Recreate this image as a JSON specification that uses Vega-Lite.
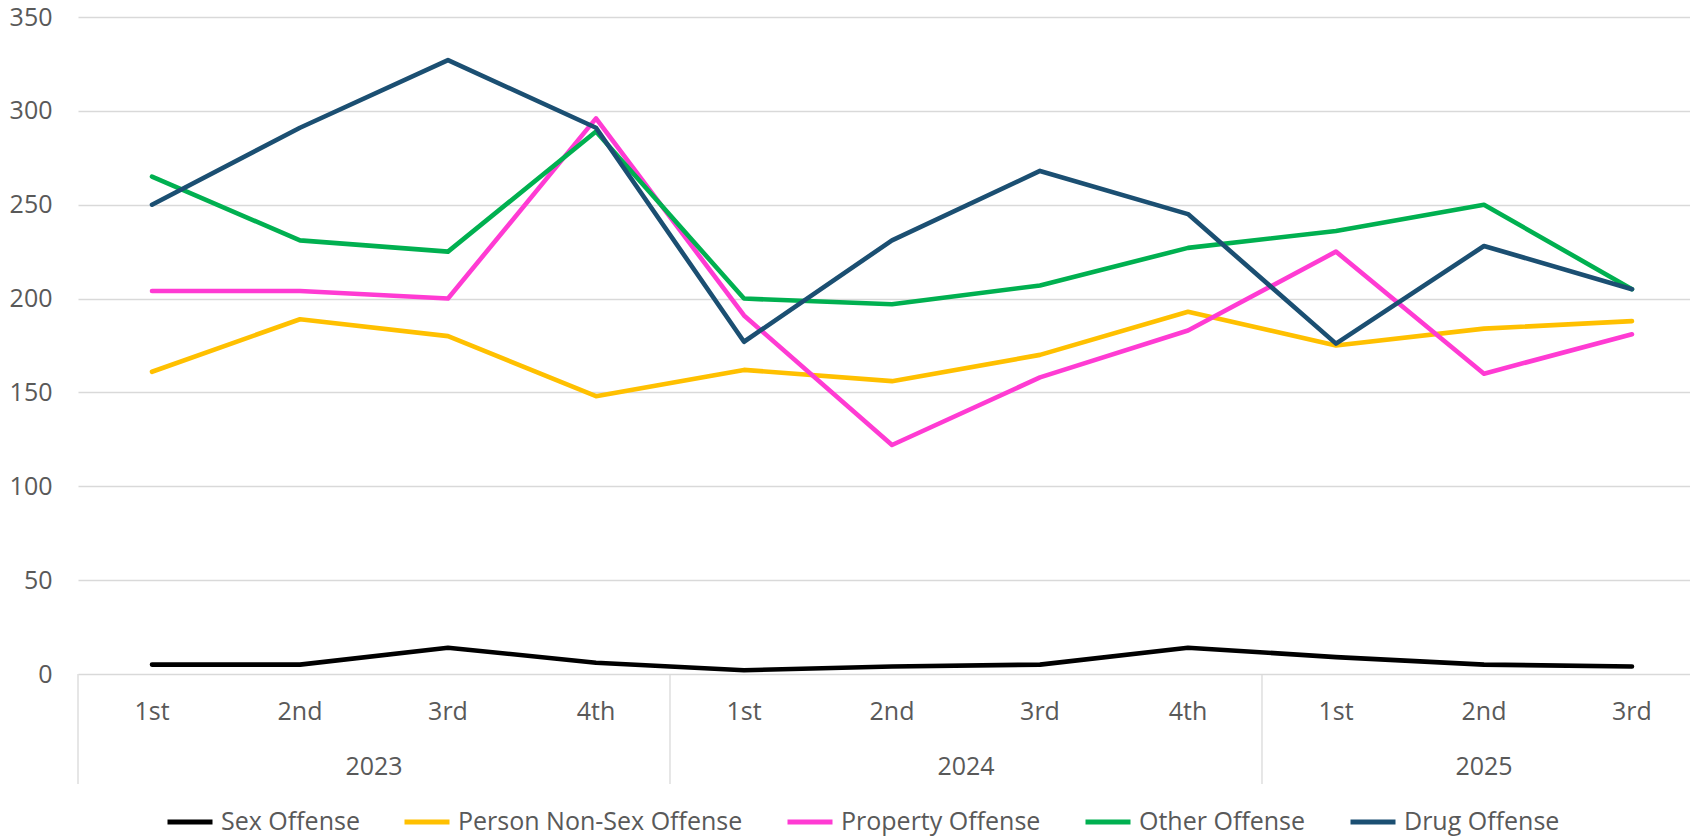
{
  "$schema": "https://vega.github.io/schema/vega-lite/v6.json",
  "width": 1612,
  "height": 657,
  "autosize": "none",
  "padding": {"left": 78, "top": 17, "right": 0, "bottom": 162},
  "config": {
    "view": {"stroke": null},
    "font": "Open Sans",
    "text": {"font": "Open Sans"}
  },
  "data": {
    "values": [
      {"offense": "Sex Offense", "year": "2023", "quarter": "1st", "period": 1, "value": 5},
      {"offense": "Sex Offense", "year": "2023", "quarter": "2nd", "period": 2, "value": 5},
      {"offense": "Sex Offense", "year": "2023", "quarter": "3rd", "period": 3, "value": 14},
      {"offense": "Sex Offense", "year": "2023", "quarter": "4th", "period": 4, "value": 6},
      {"offense": "Sex Offense", "year": "2024", "quarter": "1st", "period": 5, "value": 2},
      {"offense": "Sex Offense", "year": "2024", "quarter": "2nd", "period": 6, "value": 4},
      {"offense": "Sex Offense", "year": "2024", "quarter": "3rd", "period": 7, "value": 5},
      {"offense": "Sex Offense", "year": "2024", "quarter": "4th", "period": 8, "value": 14},
      {"offense": "Sex Offense", "year": "2025", "quarter": "1st", "period": 9, "value": 9},
      {"offense": "Sex Offense", "year": "2025", "quarter": "2nd", "period": 10, "value": 5},
      {"offense": "Sex Offense", "year": "2025", "quarter": "3rd", "period": 11, "value": 4},
      {"offense": "Person Non-Sex Offense", "year": "2023", "quarter": "1st", "period": 1, "value": 161},
      {"offense": "Person Non-Sex Offense", "year": "2023", "quarter": "2nd", "period": 2, "value": 189},
      {"offense": "Person Non-Sex Offense", "year": "2023", "quarter": "3rd", "period": 3, "value": 180},
      {"offense": "Person Non-Sex Offense", "year": "2023", "quarter": "4th", "period": 4, "value": 148},
      {"offense": "Person Non-Sex Offense", "year": "2024", "quarter": "1st", "period": 5, "value": 162},
      {"offense": "Person Non-Sex Offense", "year": "2024", "quarter": "2nd", "period": 6, "value": 156},
      {"offense": "Person Non-Sex Offense", "year": "2024", "quarter": "3rd", "period": 7, "value": 170},
      {"offense": "Person Non-Sex Offense", "year": "2024", "quarter": "4th", "period": 8, "value": 193},
      {"offense": "Person Non-Sex Offense", "year": "2025", "quarter": "1st", "period": 9, "value": 175},
      {"offense": "Person Non-Sex Offense", "year": "2025", "quarter": "2nd", "period": 10, "value": 184},
      {"offense": "Person Non-Sex Offense", "year": "2025", "quarter": "3rd", "period": 11, "value": 188},
      {"offense": "Property Offense", "year": "2023", "quarter": "1st", "period": 1, "value": 204},
      {"offense": "Property Offense", "year": "2023", "quarter": "2nd", "period": 2, "value": 204},
      {"offense": "Property Offense", "year": "2023", "quarter": "3rd", "period": 3, "value": 200},
      {"offense": "Property Offense", "year": "2023", "quarter": "4th", "period": 4, "value": 296},
      {"offense": "Property Offense", "year": "2024", "quarter": "1st", "period": 5, "value": 191},
      {"offense": "Property Offense", "year": "2024", "quarter": "2nd", "period": 6, "value": 122},
      {"offense": "Property Offense", "year": "2024", "quarter": "3rd", "period": 7, "value": 158},
      {"offense": "Property Offense", "year": "2024", "quarter": "4th", "period": 8, "value": 183},
      {"offense": "Property Offense", "year": "2025", "quarter": "1st", "period": 9, "value": 225},
      {"offense": "Property Offense", "year": "2025", "quarter": "2nd", "period": 10, "value": 160},
      {"offense": "Property Offense", "year": "2025", "quarter": "3rd", "period": 11, "value": 181},
      {"offense": "Other Offense", "year": "2023", "quarter": "1st", "period": 1, "value": 265},
      {"offense": "Other Offense", "year": "2023", "quarter": "2nd", "period": 2, "value": 231},
      {"offense": "Other Offense", "year": "2023", "quarter": "3rd", "period": 3, "value": 225},
      {"offense": "Other Offense", "year": "2023", "quarter": "4th", "period": 4, "value": 289},
      {"offense": "Other Offense", "year": "2024", "quarter": "1st", "period": 5, "value": 200},
      {"offense": "Other Offense", "year": "2024", "quarter": "2nd", "period": 6, "value": 197},
      {"offense": "Other Offense", "year": "2024", "quarter": "3rd", "period": 7, "value": 207},
      {"offense": "Other Offense", "year": "2024", "quarter": "4th", "period": 8, "value": 227},
      {"offense": "Other Offense", "year": "2025", "quarter": "1st", "period": 9, "value": 236},
      {"offense": "Other Offense", "year": "2025", "quarter": "2nd", "period": 10, "value": 250},
      {"offense": "Other Offense", "year": "2025", "quarter": "3rd", "period": 11, "value": 205},
      {"offense": "Drug Offense", "year": "2023", "quarter": "1st", "period": 1, "value": 250},
      {"offense": "Drug Offense", "year": "2023", "quarter": "2nd", "period": 2, "value": 291},
      {"offense": "Drug Offense", "year": "2023", "quarter": "3rd", "period": 3, "value": 327},
      {"offense": "Drug Offense", "year": "2023", "quarter": "4th", "period": 4, "value": 291},
      {"offense": "Drug Offense", "year": "2024", "quarter": "1st", "period": 5, "value": 177},
      {"offense": "Drug Offense", "year": "2024", "quarter": "2nd", "period": 6, "value": 231},
      {"offense": "Drug Offense", "year": "2024", "quarter": "3rd", "period": 7, "value": 268},
      {"offense": "Drug Offense", "year": "2024", "quarter": "4th", "period": 8, "value": 245},
      {"offense": "Drug Offense", "year": "2025", "quarter": "1st", "period": 9, "value": 176},
      {"offense": "Drug Offense", "year": "2025", "quarter": "2nd", "period": 10, "value": 228},
      {"offense": "Drug Offense", "year": "2025", "quarter": "3rd", "period": 11, "value": 205}
    ]
  },
  "layer": [
    {
      "mark": {"type": "line", "strokeWidth": 4.6, "strokeCap": "round", "strokeJoin": "round"},
      "encoding": {
        "x": {"field": "period", "type": "quantitative", "scale": {"domain": [0.5, 11.392], "nice": false, "zero": false}, "axis": null},
        "y": {
          "field": "value", "type": "quantitative",
          "scale": {"domain": [0, 350], "nice": false},
          "axis": {
            "title": null, "values": [0, 50, 100, 150, 200, 250, 300, 350],
            "grid": true, "gridColor": "#d9d9d9", "gridWidth": 1.3,
            "domain": false, "ticks": false, "labelPadding": 26,
            "labelFontSize": 25, "labelColor": "#595959", "labelFont": "Open Sans"
          }
        },
        "color": {
          "field": "offense", "type": "nominal",
          "scale": {
            "domain": ["Sex Offense", "Person Non-Sex Offense", "Property Offense", "Other Offense", "Drug Offense"],
            "range": ["#000000", "#ffc000", "#ff3bd3", "#00b050", "#1b4f72"]
          },
          "legend": {
            "title": null, "orient": "none", "legendX": 87, "legendY": 780,
            "direction": "horizontal", "symbolType": "stroke", "symbolStrokeWidth": 5,
            "symbolSize": 2025, "labelFontSize": 25, "labelColor": "#595959",
            "labelFont": "Open Sans", "labelOffset": 6, "columnPadding": 34, "padding": 0,
            "labelLimit": 0
          }
        }
      }
    },
    {
      "transform": [{"aggregate": [{"op": "count", "as": "n"}], "groupby": ["period", "quarter"]}],
      "mark": {"type": "text", "fontSize": 25, "color": "#595959", "baseline": "middle", "align": "center"},
      "encoding": {
        "x": {"field": "period", "type": "quantitative", "scale": {"domain": [0.5, 11.392], "nice": false, "zero": false}},
        "y": {"datum": -20.2, "type": "quantitative"},
        "text": {"field": "quarter"}
      }
    },
    {
      "transform": [{"aggregate": [{"op": "mean", "field": "period", "as": "center"}], "groupby": ["year"]}],
      "mark": {"type": "text", "fontSize": 25, "color": "#595959", "baseline": "middle", "align": "center"},
      "encoding": {
        "x": {"field": "center", "type": "quantitative", "scale": {"domain": [0.5, 11.392], "nice": false, "zero": false}},
        "y": {"datum": -49.5, "type": "quantitative"},
        "text": {"field": "year"}
      }
    },
    {
      "transform": [
        {"aggregate": [{"op": "min", "field": "period", "as": "first"}], "groupby": ["year"]},
        {"calculate": "datum.first - 0.5", "as": "boundary"}
      ],
      "mark": {"type": "rule", "color": "#d9d9d9", "strokeWidth": 1.3},
      "encoding": {
        "x": {"field": "boundary", "type": "quantitative", "scale": {"domain": [0.5, 11.392], "nice": false, "zero": false}},
        "y": {"datum": 0, "type": "quantitative"},
        "y2": {"datum": -58.6}
      }
    }
  ]
}
